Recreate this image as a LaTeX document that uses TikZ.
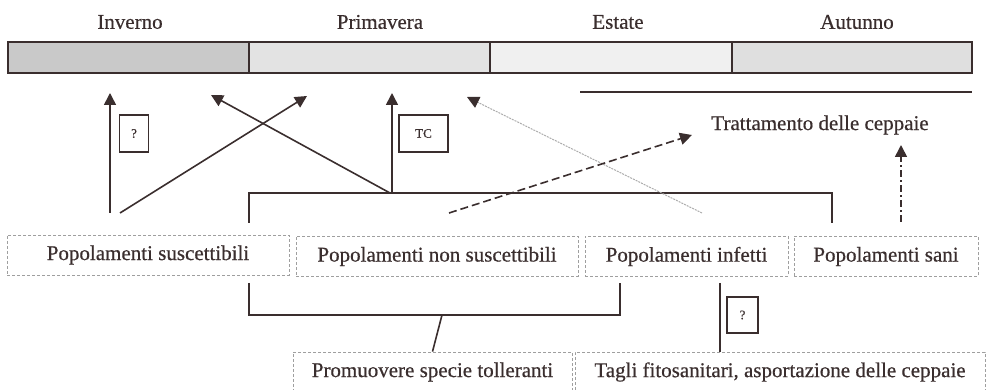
\documentclass[tikz,border=0pt]{standalone}
\usepackage{fontspec}
\setmainfont{Liberation Serif}[FakeBold=0.5]
\usetikzlibrary{arrows.meta, positioning, calc}
\definecolor{ink}{RGB}{58,46,46}

\begin{document}
\begin{tikzpicture}[
x=1pt, y=-1pt,
every node/.style={font=\fontsize{21}{24}\selectfont, text=ink},
season/.style={rectangle, draw=ink, line width=1.5pt, minimum height=31pt, inner sep=0pt},
popbox/.style={rectangle, draw=gray!75, dash pattern=on 3pt off 2pt, line width=0.8pt, minimum height=40pt, inner sep=0pt},
qbox/.style={rectangle, draw=ink, line width=1.2pt, font=\fontsize{13}{15}\selectfont, minimum height=37pt, inner sep=0pt},
line/.style={draw=ink, line width=1.6pt},
arrow/.style={-{Triangle[width=12pt,length=12pt,color=ink]}, draw=ink, line width=1.6pt}
]
\useasboundingbox (0,0) rectangle (989,390);

% stagioni
\node[season, minimum width=241pt, fill=gray!42] (inverno) at (128.5,57.5) {};
\node[season, minimum width=241pt, fill=gray!22] (primavera) at (369.5,57.5) {};
\node[season, minimum width=242pt, fill=gray!12] (estate) at (611,57.5) {};
\node[season, minimum width=240pt, fill=gray!25] (autunno) at (852,57.5) {};

\node (linverno) at (130,22) {Inverno};
\node (lprimavera) at (380,22) {Primavera};
\node (lestate) at (618,22) {Estate};
\node (lautunno) at (857,22) {Autunno};

\coordinate (trl) at (580,92);
\coordinate (trr) at (972,92);
\draw[line] (trl) -- (trr);
\node (tratt) at (820,125) {Trattamento delle ceppaie};

% popolamenti
\node[popbox, minimum width=282pt] (susc) at (148,255) {Popolamenti suscettibili};
\node[popbox, minimum width=282pt] (nonsusc) at (437,256.5) {Popolamenti non suscettibili};
\node[popbox, minimum width=203pt] (infetti) at (686.5,256.5) {Popolamenti infetti};
\node[popbox, minimum width=184pt] (sani) at (886,256.5) {Popolamenti sani};

\node[popbox, minimum width=279pt] (promo) at (432.5,372) {Promuovere specie tolleranti};
\node[popbox, minimum width=410pt] (tagli) at (780,372) {Tagli fitosanitari, asportazione delle ceppaie};

% punti di partenza e arrivo
\coordinate (suscA) at (110,213);
\coordinate (suscB) at (120,213);
\coordinate (invTip) at (110,93);
\coordinate (primTipA) at (307,96);
\coordinate (primTipB) at (211,95);
\coordinate (tcTip) at (392,93);
\coordinate (estTip) at (467,97);
\coordinate (brL) at (249,223);
\coordinate (brR) at (832,223);
\coordinate (junc) at (390,193);
\coordinate (infA) at (702,213);
\coordinate (nsA) at (449,213);
\coordinate (trTip) at (692,135);
\coordinate (saniA) at (901,222);
\coordinate (saniTip) at (901,145);

% frecce
\draw[arrow] (suscA) -- (invTip);
\draw[arrow] (suscB) -- (primTipA);
\draw[line] (brL) |- (junc -| brR) -- (brR);
\draw[arrow] (junc) -- (primTipB);
\draw[arrow] (junc -| tcTip) -- (tcTip);
\draw[arrow, draw=gray!65, line width=1pt, dash pattern=on 2pt off 1pt] (infA) -- (estTip);
\draw[arrow, dash pattern=on 8pt off 4pt] (nsA) -- (trTip);
\draw[arrow, dash pattern=on 7pt off 3pt on 2pt off 3pt] (saniA) -- (saniTip);

\node[qbox, minimum width=29pt] (q1) at (134,133.5) {?};
\node[qbox, minimum width=49pt] (tc) at (423.5,133.5) {TC};

% parte bassa
\coordinate (lbL) at (249,283);
\coordinate (lbR) at (620,283);
\coordinate (lbM) at (442,315);
\draw[line] (lbL) |- (lbM -| lbR) -- (lbR);
\draw[line] (lbM) -- (promo.north);
\coordinate (tgA) at (720,283);
\draw[line] (tgA) -- (tgA |- tagli.north);
\node[qbox, minimum width=31pt, minimum height=36pt] (q2) at (742.5,315) {?};

\end{tikzpicture}
\end{document}
